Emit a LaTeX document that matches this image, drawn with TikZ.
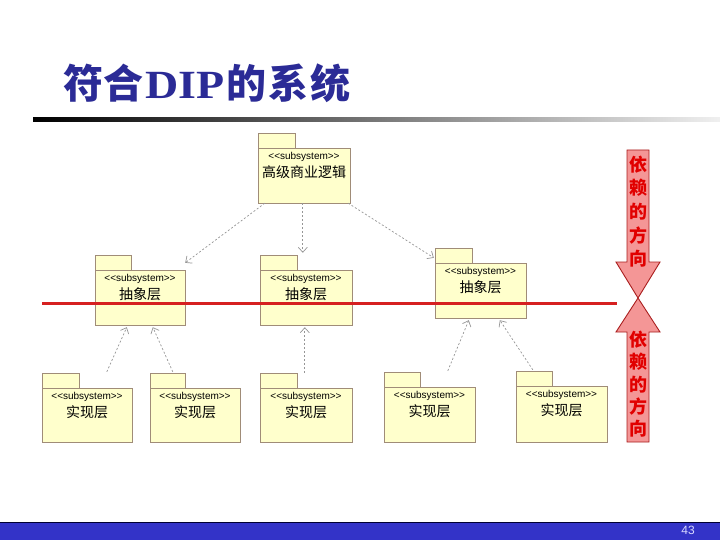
\documentclass[tikz,border=0pt]{standalone}
\usepackage{fontspec}
\setmainfont{Liberation Sans}
\newfontfamily\cjk{Noto Sans CJK SC}
\newfontfamily\tnr[FakeStretch=1.15]{Liberation Serif}
\usetikzlibrary{arrows.meta,fit,calc}
\definecolor{pkgfill}{RGB}{255,255,204}
\definecolor{pkgedge}{RGB}{160,140,120}
\definecolor{titleblue}{RGB}{43,43,150}
\definecolor{barblue}{RGB}{51,51,200}
\definecolor{redline}{RGB}{214,32,32}
\definecolor{arrowfill}{RGB}{244,150,150}
\definecolor{arrowedge}{RGB}{170,30,30}
\definecolor{deptext}{RGB}{225,0,0}
\definecolor{dashgray}{RGB}{150,150,150}
\tikzset{
  pkgline/.style={draw=pkgedge, fill=pkgfill, line width=0.8pt},
  stereo/.style={inner sep=0pt, font=\fontsize{10}{12}\selectfont},
  cjkt/.style={inner sep=0pt, font=\cjk\fontsize{14}{16}\selectfont},
  dep/.style={draw=dashgray, line width=0.7pt, dash pattern=on 2pt off 2pt,
    -{Straight Barb[length=5pt,width=9pt,line width=0.7pt]}},
  bigarrow/.style={fill=arrowfill, draw=arrowedge, line width=0.9pt},
  depchar/.style={inner sep=0pt, text=deptext, font=\cjk\bfseries\fontsize{18}{20}\selectfont},
}
\newcommand\pkg[8]{%
  \draw[pkgline] (#2,#4) rectangle (#3,#5);
  \draw[pkgline] (#2,#5) rectangle (#6,#7);
  \node[fit={(#2,#5) (#6,#7)}, inner sep=0pt] (#1) {};
  \node[stereo] (#1s) at ([yshift=-9pt]#1.north) {{<}{<}subsystem{>}{>}};
  \node[cjkt] (#1t) at ([yshift=-24pt]#1.north) {#8};
}
\begin{document}
\begin{tikzpicture}[x=1pt,y=-1pt]
\useasboundingbox (0,0) rectangle (720,540);
\fill[white] (0,0) rectangle (720,540);
% title
\node[anchor=west, inner sep=0pt, text=titleblue] (title) at (63,83)
  {\fontsize{40}{42}\selectfont\cjk\bfseries 符合\kern2pt\tnr\bfseries DIP\kern2pt\cjk\bfseries 的\kern2pt 系\kern2pt 统};
\shade[left color=black, right color=gray!12] (33,118) rectangle (720,122);
% packages
\pkg{top}{258}{295}{133}{148}{350}{203}{高级商业逻辑}
\pkg{ml}{95}{131}{255}{270}{185}{325}{抽象层}
\pkg{mc}{260}{297}{255}{270}{352}{325}{抽象层}
\pkg{mr}{435}{472}{248}{263}{526}{318}{抽象层}
\pkg{ba}{42}{79}{373}{388}{132}{442}{实现层}
\pkg{bb}{150}{185}{373}{388}{240}{442}{实现层}
\pkg{bc}{260}{297}{373}{388}{352}{442}{实现层}
\pkg{bd}{384}{420}{372}{387}{475}{442}{实现层}
\pkg{be}{516}{552}{371}{386}{607}{442}{实现层}
% dependencies
\draw[dep] ([xshift=7pt]top.south west) -- ([yshift=7pt]ml.north east);
\draw[dep] ([xshift=45pt]top.south west) -- ([xshift=43pt,yshift=17pt]mc.north west);
\draw[dep] ([xshift=-2pt]top.south east) -- ([xshift=-1pt,yshift=5pt]mr.north west);
\draw[dep] ([xshift=65pt,yshift=16pt]ba.north west) -- ([xshift=32pt,yshift=-2pt]ml.south west);
\draw[dep] ([xshift=23pt,yshift=16pt]bb.north west) -- ([xshift=58pt,yshift=-2pt]ml.south west);
\draw[dep] ([xshift=45pt,yshift=15pt]bc.north west) -- ([xshift=45pt,yshift=-2pt]mc.south west);
\draw[dep] ([xshift=64pt,yshift=16pt]bd.north west) -- ([xshift=34pt,yshift=-2pt]mr.south west);
\draw[dep] ([xshift=17pt,yshift=16pt]be.north west) -- ([xshift=65pt,yshift=-2pt]mr.south west);
% red line
\draw[redline, line width=3pt] (42,303) -- (617,303);
% direction arrows
\draw[bigarrow] (627,150) -- (649,150) -- (649,262) -- (660,262) -- (638,298)
  -- (616,262) -- (627,262) -- cycle;
\draw[bigarrow] (638,298) -- (660,332) -- (649,332) -- (649,442) -- (627,442)
  -- (627,332) -- (616,332) -- cycle;
\node[depchar] (u1) at (638,165) {依};
\node[depchar] (u2) at (638,188) {赖};
\node[depchar] (u3) at (638,212) {的};
\node[depchar] (u4) at (638,236) {方};
\node[depchar] (u5) at (638,259) {向};
\node[depchar] (d1) at (638,340) {依};
\node[depchar] (d2) at (638,362) {赖};
\node[depchar] (d3) at (638,385) {的};
\node[depchar] (d4) at (638,407) {方};
\node[depchar] (d5) at (638,429) {向};
% footer
\fill[barblue] (0,522) rectangle (720,540);
\draw[black!80!blue, line width=1pt] (0,522) -- (720,522);
\node[inner sep=0pt, text=white!85!blue, font=\fontsize{12}{14}\selectfont] (pg) at (688,530) {43};
\end{tikzpicture}
\end{document}
